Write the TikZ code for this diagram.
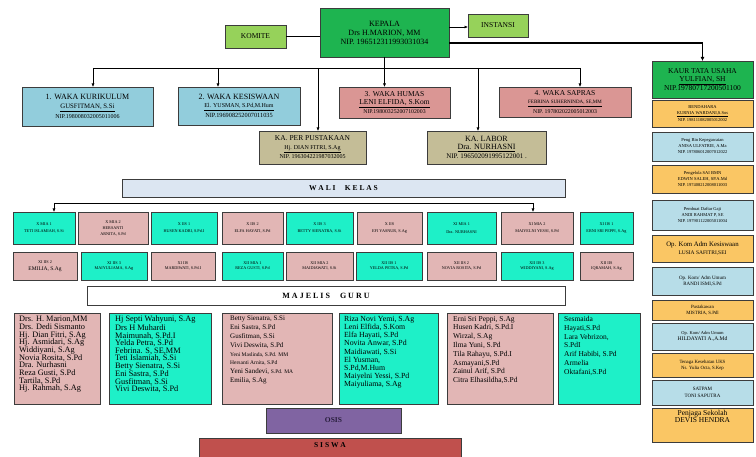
\documentclass[tikz,border=0pt]{standalone}
\usepackage{fontspec}
\setmainfont{Liberation Serif}
\usetikzlibrary{arrows.meta}
\definecolor{bordc}{RGB}{60,60,60}
\definecolor{kgreen}{RGB}{30,180,80}
\definecolor{lgreen}{RGB}{150,210,90}
\definecolor{lblue}{RGB}{146,205,220}
\definecolor{rblue}{RGB}{183,221,232}
\definecolor{wpink}{RGB}{218,150,148}
\definecolor{pinkb}{RGB}{226,182,181}
\definecolor{cyanb}{RGB}{30,240,200}
\definecolor{khaki}{RGB}{196,189,151}
\definecolor{orangeb}{RGB}{250,198,100}
\definecolor{headblue}{RGB}{220,230,242}
\definecolor{osisc}{RGB}{128,100,162}
\definecolor{siswac}{RGB}{192,80,77}
\newcommand\myfs[2]{\fontsize{#1}{#2}\selectfont}
\newcommand\mybox[7]{\node[bx,#6,minimum width={(#4-#2)*1pt},minimum height={(#5-#3)*1pt}] (#1) at ({(#2+#4)/2},{(#3+#5)/2}) {#7};}
\begin{document}
\begin{tikzpicture}[x=1pt,y=-1pt,
 bx/.style={draw=bordc,line width=0.8pt,align=center,inner sep=0.5pt,outer sep=0pt},
 conn/.style={draw=black,line width=0.6pt},
 arr/.style={conn,-{Latex[length=3.5pt,width=3pt]}},
 wk/.style={font=\myfs{4.2}{5.5}},
 gt/.style={anchor=north west,align=left,inner sep=0pt}]
\useasboundingbox[fill=white] (0,0) rectangle (756,457);
% top
\mybox{kepala}{320}{8}{449}{57}{fill=kgreen,font=\myfs{8}{9}}{KEPALA\\Drs H.MARION, MM\\NIP. 196512311993031034}
\mybox{komite}{225}{25}{286}{48}{fill=lgreen,font=\myfs{7.5}{8}}{KOMITE}
\mybox{instansi}{468}{14}{528}{37}{fill=lgreen,font=\myfs{7.5}{8}}{INSTANSI}
\draw[conn,line width=1.2pt] (komite.east) -- (komite.east -| kepala.west);
\draw[arr] ([yshift=5.5pt]kepala.east) -- ([yshift=5.5pt]kepala.east -| instansi.west);
% waka
\mybox{waka1}{22}{87}{153}{126}{fill=lblue,font=\myfs{8}{9}}{1. WAKA KURIKULUM\\\myfs{6.8}{8.5}\underline{GUSFITMAN, S.Si}\\[1.5pt]\myfs{6}{8.5}NIP.198008032005011006}
\mybox{waka2}{178}{87}{300}{125}{fill=lblue,font=\myfs{8}{8.5}}{2. WAKA KESISWAAN\\\myfs{6}{8.5}\underline{El. YUSMAN, S.Pd,M.Hum}\\[1.5pt]\myfs{6.3}{8.5}NIP.196908252007011035}
\mybox{waka3}{339}{87}{450}{118}{fill=wpink,font=\myfs{7.5}{8}}{3. WAKA HUMAS\\\underline{LENI ELFIDA, S.Kom}\\[1.5pt]\myfs{5.8}{8}NIP.198003252007102003}
\mybox{waka4}{499}{87}{631}{117}{fill=wpink,font=\myfs{7.5}{8.5}}{4. WAKA SAPRAS\\\myfs{5}{8.5}\underline{FEBRINA SUHERNINDA, SE,MM}\\[1.5pt]\myfs{5.8}{9}NIP. 197802022005012003}
\mybox{perpus}{259}{131}{366}{164}{fill=khaki,font=\myfs{7.5}{8.5}}{KA. PER PUSTAKAAN\\\myfs{6}{8.5}\underline{Hj. DIAN FITRI, S.Ag}\\[1pt]\myfs{6}{8.5}NIP. 196304221987032005}
\mybox{labor}{427}{131}{546}{164}{fill=khaki,font=\myfs{8}{8}}{KA. LABOR\\\underline{Dra. NURHASNI}\\[0.5pt]\myfs{7}{8.5}NIP. 196502091995122001 .}
\coordinate (jl) at (93,68);
\coordinate (j2) at (218,68);
\coordinate (j5) at (318,68);
\coordinate (j6) at (478,68);
\coordinate (jr) at (580,68);
\draw[conn] (jl) -- (jr);
\draw[arr] (kepala.south) -- (kepala.south |- waka3.north);
\draw[arr] (jl) -- (jl |- waka1.north);
\draw[arr] (j2) -- (j2 |- waka2.north);
\draw[arr] (jr) -- (jr |- waka4.north);
\draw[arr] (j5) -- (j5 |- perpus.north);
\draw[arr] (j6) -- (j6 |- labor.north);
% right column
\mybox{kaur}{652}{61}{753}{98}{fill=kgreen,font=\myfs{7.5}{8.5}}{KAUR TATA USAHA\\\underline{YULFIAN, SH}\\[0.5pt]NIP.19780717200501100}
\draw[line width=1.5pt,-{Latex[length=4pt,width=4pt]}] ([yshift=-10.5pt]kepala.east) -| (kaur.north);
\mybox{r1}{652}{100}{753}{127}{fill=orangeb,font=\myfs{4.5}{6}}{BENDAHARA\\\underline{KURNIA WARDANI,S.Sos}\\[1pt]NIP. 198111082005012002}
\mybox{r2}{652}{132}{753}{161}{fill=rblue,font=\myfs{4.5}{6}}{Peng Bin Kepegawaian\\ANISA ULFATRIE, A.Ma\\NIP. 197806012007012022}
\mybox{r3}{652}{165}{753}{193}{fill=orangeb,font=\myfs{4.5}{6}}{Pengelola SAI BMN\\EDWIN SALEH, SP.A.Md\\NIP. 197408212008011003}
\mybox{r4}{652}{200}{753}{230}{fill=rblue,font=\myfs{4.5}{6}}{Pembuat Daftar Gaji\\ANDI RAHMAT P, SE\\NIP. 197901122005011004}
\mybox{r5}{652}{235}{753}{262}{fill=orangeb,font=\myfs{6.8}{8}}{Op. Kom Adm Kesiswaan\\\myfs{5.5}{7.5}LUSIA SAFITRI,SEI}
\mybox{r6}{652}{267}{753}{295}{fill=rblue,font=\myfs{5}{6.5}}{Op. Kom/ Adm Umum\\RANDI ISMI,S.Pd}
\mybox{r7}{652}{300}{753}{320}{fill=orangeb,font=\myfs{4.8}{6}}{Pustakawan\\MISTRIA, S.Pdl}
\mybox{r8}{652}{323}{753}{350}{fill=rblue,font=\myfs{4.5}{6}}{Op. Kom/ Adm Umum\\\myfs{5.5}{6.5}HILDAYATI A.,A.Md}
\mybox{r9}{652}{353}{753}{377}{fill=orangeb,font=\myfs{4.8}{6}}{Tenaga Kesehatan UKS\\Ns. Yulia Octa, S.Kep}
\mybox{r10}{652}{380}{753}{405}{fill=rblue,font=\myfs{5}{6.5}}{SATPAM\\TONI SAPUTRA}
\node[bx,fill=orangeb,minimum width=101pt,minimum height=34pt,anchor=north] (r11) at (702.5,408) {};
\node[anchor=north,align=center,inner sep=0pt,font=\myfs{7.5}{7.5}] (r11t) at ([yshift=-2pt]r11.north) {Penjaga Sekolah\\DEVIS HENDRA};
% wali kelas
\mybox{wali}{122}{179}{565}{197}{fill=headblue,font=\myfs{7.5}{8}\bfseries}{W A L I \quad K E L A S}
\coordinate (wl) at (54,203);
\coordinate (wr) at (533,203);
\draw[conn] (wl) -- (wr);
\mybox{wa1}{13}{212}{75}{244}{fill=cyanb,wk}{X MIA 1\\[2pt]TETI ISLAMIAH, S.Si}
\mybox{wa2}{78}{212}{148}{244}{fill=pinkb,wk}{X MIA 2\\[1pt]HERSANTI\\ARNITA, S.Pd}
\mybox{wa3}{151}{212}{217}{244}{fill=cyanb,wk}{X IIS 1\\[2pt]HUSEN KADRI, S.Pd.I}
\mybox{wa4}{222}{212}{283}{244}{fill=pinkb,wk}{X IIS 2\\[2pt]ELFA HAYATI, S.Pd}
\mybox{wa5}{286}{212}{353}{244}{fill=cyanb,wk}{X IIS 3\\[2pt]BETTY SIENATRA, S.Si}
\mybox{wa6}{357}{212}{422}{244}{fill=pinkb,wk}{X IIS\\[2pt]EFI YASNUR, S.Ag}
\mybox{wa7}{427}{212}{496}{244}{fill=cyanb,wk}{XI MIA 1\\[2pt]Dra. NURHASNI}
\mybox{wa8}{501}{212}{573}{244}{fill=pinkb,wk}{XI MIA 2\\[2pt]MAIYELNI YESSI, S.Pd}
\mybox{wa9}{580}{212}{633}{244}{fill=cyanb,wk}{XI IIS 1\\[2pt]ERNI SRI PEPPI, S.Ag}
\draw[arr] (wl) -- (wl |- wa1.north);
\draw[arr] (wr) -- (wr |- wa8.north);
\mybox{wb1}{13}{252}{77}{280}{fill=pinkb,wk}{XI IIS 2\\[1pt]\myfs{5.5}{6}EMILIA, S.Ag}
\mybox{wb2}{81}{252}{147}{280}{fill=cyanb,wk}{XI IIS 3\\MAIYULIAMA, S.Ag}
\mybox{wb3}{151}{252}{215}{280}{fill=pinkb,wk}{XI IIS\\MARDIWATI, S.Pd.I}
\mybox{wb4}{222}{252}{283}{280}{fill=cyanb,wk}{XII MIA 1\\REZA GUSTI, S.Pd}
\mybox{wb5}{286}{252}{353}{280}{fill=pinkb,wk}{XII MIA 2\\MAIDIAWATI, S.Si}
\mybox{wb6}{356}{252}{422}{280}{fill=cyanb,wk}{XII IIS 1\\YELDA PETRA, S.Pd}
\mybox{wb7}{427}{252}{496}{280}{fill=pinkb,wk}{XII IIS 2\\NOVIA ROSITA, S.Pd}
\mybox{wb8}{501}{252}{573}{280}{fill=cyanb,wk}{XII IIS 3\\WIDDIYANI, S.Ag}
\mybox{wb9}{580}{252}{633}{280}{fill=pinkb,wk}{XII IIS\\IQRAMAH, S.Ag}
% majelis guru
\mybox{guru}{87}{286}{565}{305}{fill=white,font=\myfs{8}{8}\bfseries}{M A J E L I S \quad G U R U}
\mybox{g1}{14}{313}{100}{404}{fill=pinkb}{}
\mybox{g2}{109}{313}{211}{404}{fill=cyanb}{}
\mybox{g3}{222}{313}{332}{404}{fill=pinkb}{}
\mybox{g4}{339}{313}{438}{404}{fill=cyanb}{}
\mybox{g5}{447}{313}{553}{404}{fill=pinkb}{}
\mybox{g6}{558}{313}{640}{404}{fill=cyanb}{}
\node[gt,font=\myfs{8.3}{7.7}] (g1t) at ([xshift=5pt,yshift=-3pt]g1.north west) {Drs. H. Marion,MM\\Drs. Dedi Sismanto\\Hj. Dian Fitri, S.Ag\\Hj. Asmidari, S.Ag\\Widdiyani, S.Ag\\Novia Rosita, S.Pd\\Dra. Nurhasni\\Reza Gusti, S.Pd\\Tartila, S.Pd\\Hj. Rahmah, S.Ag};
\node[gt,font=\myfs{8.3}{7.5}] (g2t) at ([xshift=6pt,yshift=-3pt]g2.north west) {Hj Septi Wahyuni, S.Ag\\Drs H Muhardi\\Maimunah, S.Pd.I\\Yelda Petra, S.Pd\\Febrina. S, SE,MM\\Teti Islamiah, S.Si\\Betty Sienatra, S.Si\\Eni Sastra, S.Pd\\Gusfitman, S.Si\\Vivi Deswita, S.Pd};
\node[gt,font=\myfs{7}{8.8}] (g3t) at ([xshift=8pt,yshift=-3pt]g3.north west) {Betty Sienatra, S.Si\\Eni Sastra, S.Pd\\Gusfitman, S.Si\\Vivi Deswita, S.Pd\\\myfs{5.5}{8.8}Yeni Maslinda, S.Pd. MM\\\myfs{5.5}{8.8}Hersanti Arnita, S.Pd\\Yeni Sandevi, {\myfs{5.5}{8.8}S.Pd. MA}\\Emilia, S.Ag};
\node[gt,font=\myfs{7.8}{8.2}] (g4t) at ([xshift=5pt,yshift=-3pt]g4.north west) {Riza Novi Yemi, S.Ag\\Leni Elfida, S.Kom\\Elfa Hayati, S.Pd\\Novita Anwar, S.Pd\\Maidiawati, S.Si\\El Yusman,\\S.Pd,M.Hum\\Maiyelni Yessi, S.Pd\\Maiyuliama, S.Ag};
\node[gt,font=\myfs{7.5}{8.8}] (g5t) at ([xshift=6pt,yshift=-3pt]g5.north west) {Erni Sri Peppi, S.Ag\\Husen Kadri, S.Pd.I\\Wirzal, S.Ag\\Ilma Yuni, S.Pd\\Tila Rahayu, S.Pd.I\\Asmayani,S.Pd\\Zainul Arif, S.Pd\\Citra Elhasildha,S.Pd};
\node[gt,font=\myfs{7.5}{8.8}] (g6t) at ([xshift=6pt,yshift=-3pt]g6.north west) {Sesmaida\\Hayati,S.Pd\\Lara Vebrizon,\\S.PdI\\Arif Habibi, S.Pd\\Armelia\\Oktafani,S.Pd};
% osis siswa
\mybox{osis}{266}{408}{401}{433}{fill=osisc,font=\myfs{7.5}{8}\bfseries}{\color[RGB]{40,30,60}OSIS}
\node[bx,fill=siswac,minimum width=262pt,minimum height=30pt,anchor=north west] (siswa) at (199,438) {};
\node[anchor=north,inner sep=0pt,font=\myfs{7.5}{8}\bfseries] (siswat) at ([yshift=-4pt]siswa.north) {S I S W A};
\end{tikzpicture}
\end{document}
